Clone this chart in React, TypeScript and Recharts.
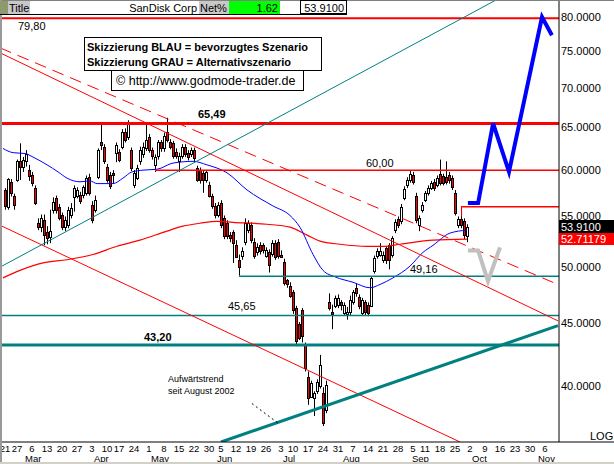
import React from "react";
import { Bar, ComposedChart, Line, ReferenceLine, XAxis, YAxis } from "recharts";

const FONT = "'Liberation Sans', Arial, sans-serif";
const RED = "#ff0000";
const TEAL = "#008080";
const BLUE = "#0000ff";
const GREY = "#c0c0c0";

// daily candles [open, high, low, close]; index 0 = 21 Feb 2006 ... 154 = 29 Sep 2006
const candles: [number, number, number, number][] = [
  [57.8, 58.0, 55.7, 56.1], [56.0, 59.1, 55.7, 59.0], [58.7, 59.0, 57.1, 57.5], [57.2, 57.4, 55.7, 56.2],
  [58.9, 61.2, 58.7, 61.0], [61.0, 63.1, 58.9, 60.4], [60.4, 61.5, 59.8, 61.2], [61.0, 62.3, 60.4, 61.8],
  [60.0, 60.6, 58.8, 59.3], [59.5, 59.8, 58.2, 58.6], [58.0, 58.3, 56.2, 56.4], [54.3, 54.8, 53.6, 53.9],
  [53.9, 55.2, 53.4, 54.8], [54.6, 55.2, 52.1, 53.1], [53.4, 54.0, 52.2, 52.8], [52.9, 55.7, 52.3, 53.5],
  [55.7, 57.0, 55.3, 56.5], [56.9, 57.2, 55.3, 55.7], [56.0, 56.3, 54.6, 54.8], [55.2, 55.4, 53.6, 53.9],
  [53.9, 55.0, 53.5, 54.6], [54.1, 56.0, 53.8, 55.7], [55.1, 56.4, 54.8, 55.9], [57.0, 58.3, 55.5, 58.0],
  [57.2, 58.1, 56.9, 57.8], [57.3, 57.6, 56.3, 56.6], [57.3, 58.3, 56.9, 58.1], [57.5, 59.4, 57.2, 59.1],
  [59.2, 59.6, 57.2, 57.5], [56.2, 56.6, 54.3, 54.6], [55.7, 57.2, 55.4, 56.7], [59.2, 62.5, 59.0, 62.3],
  [63.3, 65.6, 62.3, 62.9], [62.7, 63.0, 60.7, 61.0], [60.4, 60.7, 58.6, 58.9], [59.5, 59.8, 57.9, 58.2],
  [59.7, 60.0, 58.5, 59.4], [62.0, 63.2, 60.9, 62.9], [62.1, 62.4, 60.9, 61.2], [62.7, 64.8, 62.4, 64.5],
  [64.5, 64.9, 63.2, 63.5], [63.8, 65.9, 63.5, 65.7], [62.3, 62.6, 59.9, 60.2], [58.3, 60.0, 58.0, 59.7],
  [59.1, 60.6, 58.9, 60.2], [61.0, 62.7, 60.6, 62.3], [61.8, 63.2, 61.4, 62.7], [62.6, 65.4, 62.2, 63.5],
  [63.8, 64.2, 62.0, 62.3], [62.3, 62.6, 61.2, 61.6], [60.6, 61.8, 59.8, 61.5], [61.6, 63.5, 61.2, 63.2],
  [63.2, 63.5, 62.1, 62.6], [62.6, 64.4, 62.1, 64.0], [64.4, 66.2, 63.2, 63.5], [63.3, 63.6, 62.4, 62.7],
  [63.1, 63.4, 61.3, 61.6], [62.1, 62.5, 61.3, 61.6], [61.0, 62.0, 59.8, 61.6], [61.6, 63.0, 61.3, 62.7],
  [62.7, 63.0, 61.5, 61.8], [62.0, 62.3, 61.1, 61.5], [61.8, 62.6, 61.5, 62.3], [62.3, 62.6, 60.9, 61.4],
  [60.2, 60.5, 58.7, 58.9], [60.0, 60.3, 58.5, 58.9], [59.7, 60.0, 57.5, 58.9], [58.9, 60.0, 58.6, 59.8],
  [58.4, 58.7, 57.0, 57.1], [57.1, 57.4, 55.8, 56.1], [56.1, 56.4, 54.8, 55.1], [55.2, 56.5, 54.9, 56.2],
  [56.4, 56.7, 53.8, 54.1], [54.8, 55.1, 52.7, 53.0], [54.3, 54.6, 52.7, 53.0], [53.1, 53.4, 52.4, 52.8],
  [53.4, 53.6, 50.4, 52.3], [52.1, 52.6, 50.9, 51.0], [50.7, 51.2, 49.2, 50.0], [51.1, 51.9, 50.7, 51.5],
  [52.4, 54.8, 52.1, 54.3], [53.6, 54.6, 53.3, 54.3], [54.1, 54.4, 52.3, 52.6], [52.4, 52.8, 50.8, 51.1],
  [51.4, 52.3, 51.1, 51.9], [52.1, 52.4, 51.2, 51.5], [52.1, 52.3, 51.3, 51.6], [51.1, 51.9, 50.9, 51.6],
  [51.4, 51.7, 49.5, 50.2], [51.3, 52.6, 51.0, 52.3], [52.3, 52.6, 50.7, 51.0], [52.4, 52.7, 50.8, 51.1],
  [51.2, 51.6, 50.9, 51.0], [50.5, 50.8, 48.3, 48.5], [48.8, 48.9, 48.1, 48.4], [48.3, 48.6, 47.2, 47.4],
  [47.7, 47.9, 45.8, 46.1], [46.3, 46.5, 43.1, 43.5], [44.9, 45.1, 43.6, 43.8], [46.1, 46.3, 43.4, 43.9],
  [43.2, 43.4, 41.1, 41.4], [40.7, 41.1, 38.6, 39.1], [39.2, 40.4, 39.1, 40.2], [39.1, 39.6, 37.8, 39.5],
  [39.6, 40.5, 39.4, 40.3], [40.0, 42.4, 39.8, 41.6], [39.5, 39.9, 37.1, 37.3], [38.2, 40.4, 38.0, 40.1],
  [46.8, 47.6, 46.1, 46.3], [46.0, 46.6, 44.5, 45.8], [46.5, 47.4, 46.3, 47.2], [46.6, 47.5, 46.3, 47.2],
  [46.8, 47.0, 46.1, 46.6], [45.9, 46.8, 45.7, 46.6], [45.8, 46.4, 45.3, 46.0], [46.0, 47.4, 45.7, 47.0],
  [46.8, 47.9, 46.6, 47.7], [48.1, 48.5, 47.3, 47.6], [47.3, 47.5, 46.2, 46.5], [45.9, 47.2, 45.7, 47.0],
  [46.8, 47.0, 45.7, 46.0], [46.6, 46.8, 45.6, 45.9], [46.5, 49.1, 46.4, 49.0], [49.6, 51.1, 49.4, 50.9],
  [51.1, 51.8, 50.8, 51.5], [51.2, 52.3, 51.0, 51.5], [50.7, 51.5, 50.4, 51.2], [51.8, 52.0, 50.3, 50.7],
  [52.1, 52.3, 49.8, 50.7], [51.2, 53.0, 50.9, 52.8], [53.6, 54.7, 53.3, 54.4], [54.7, 55.0, 53.8, 54.1],
  [54.5, 56.3, 54.2, 56.0], [56.9, 58.2, 56.7, 57.9], [58.3, 59.2, 58.0, 58.9], [58.9, 60.0, 58.6, 59.6],
  [59.5, 59.8, 58.4, 58.7], [57.2, 57.5, 54.3, 54.6], [54.1, 55.1, 53.5, 54.8], [55.7, 56.5, 55.4, 56.2],
  [56.7, 57.7, 56.5, 57.5], [57.5, 58.3, 57.2, 58.0], [58.0, 58.8, 57.8, 58.6], [58.7, 59.0, 57.7, 58.0],
  [58.4, 59.4, 58.1, 59.1], [59.6, 61.2, 58.3, 58.6], [59.3, 59.6, 58.3, 58.6], [59.2, 61.0, 58.4, 58.7],
  [59.5, 59.8, 58.5, 58.9], [59.1, 59.4, 57.8, 58.1], [57.5, 57.8, 55.1, 55.4], [54.1, 55.0, 53.8, 54.7],
  [54.7, 56.0, 53.8, 54.1], [54.5, 54.8, 52.7, 53.1], [53.0, 54.2, 52.4, 53.91],
];

// moving averages, [day index, value]
const maShort: [number, number][] = [
  [-0.7, 62.5], [2.7, 62.0], [6.7, 61.9], [9.3, 61.5], [14, 60.6], [17.7, 59.8], [20.7, 59.1], [25, 58.7],
  [28.3, 58.8], [30.7, 58.5], [36, 58.5], [39.3, 59.1], [42.3, 59.8], [46, 60.0], [50.7, 60.1], [56, 60.8],
  [62.7, 61.0], [67.3, 60.6], [74, 59.7], [80.7, 57.8], [89.3, 56.1], [95, 55.1], [98.3, 53.9], [102.7, 51.2],
  [106, 49.7], [110, 49.1], [116, 48.6], [121.7, 48.1], [125, 48.4], [129.3, 49.0], [135, 50.1], [139.3, 51.4],
  [142.7, 52.1], [148.3, 53.3], [154, 53.6],
];
const maLong: [number, number][] = [
  [-0.7, 49.0], [5, 49.7], [12.7, 50.4], [20.7, 50.7], [29.3, 51.2], [37.3, 52.0], [45, 52.6], [54, 53.5],
  [59.3, 54.0], [65, 54.3], [70.7, 54.5], [76, 54.4], [87.3, 54.2], [95, 53.9], [100.7, 53.1], [105, 52.5],
  [111.7, 52.2], [120.7, 52.0], [126, 52.0], [131.7, 52.2], [142.7, 52.6], [154, 52.71],
];

// projected paths
const blueScenario: [number, number][] = [[154.3, 56.4], [157.7, 56.4], [162.7, 65.5], [168, 59.8], [179, 80.0], [182.3, 77.3]];
const greyScenario: [number, number][] = [[154.3, 51.6], [157.7, 51.6], [161, 48.7], [165, 51.9]];

// horizontal levels [price, first day index]
const redLevels: [number, number][] = [[79.8, -2], [65.49, -2], [60.0, 50], [56.0, 152]];
const tealLevels: [number, number][] = [[49.16, 78], [45.65, -2], [43.2, -2]];

// trend lines, two points each [day index, price]
const dashedRedTrend: [number, number][] = [[-1.67, 75.5], [184.33, 48.4]];
const upperRedTrend: [number, number][] = [[-1.67, 74.8], [184.33, 45.2]];
const lowerRedTrend: [number, number][] = [[-1.67, 54.1], [151.67, 36.0]];
const thinTealTrend: [number, number][] = [[-1.67, 50.0], [163.67, 82.6]];
const thickTealTrend: [number, number][] = [[72, 36.0], [184.33, 44.8]];
const pointerLine: [number, number][] = [[82.3, 38.7], [91, 37.3]];
const highMark: [number, number][] = [[152.2, 56.0], [152.2, 55.0]];

const priceTicks = [40, 45, 50, 55, 60, 65, 70, 75, 80];
const dayTicks: [number, string][] = [
  [0, "21"], [4, "27"], [9, "6"], [14, "13"], [19, "20"], [24, "27"], [29, "3"], [34, "10"], [38, "17"],
  [43, "24"], [48, "1"], [53, "8"], [58, "15"], [63, "22"], [68, "30"], [72, "5"], [77, "12"], [82, "19"],
  [87, "26"], [92, "3"], [96, "10"], [101, "17"], [106, "24"], [111, "31"], [116, "7"], [121, "14"],
  [126, "21"], [131, "28"], [136, "5"], [140, "11"], [145, "18"], [150, "25"], [155, "2"], [160, "9"],
  [165, "16"], [170, "23"], [175, "30"], [180, "6"],
];
const monthTicks: [number, string][] = [
  [6, "Mar"], [29, "Apr"], [48, "May"], [70, "Jun"], [92, "Jul"], [112, "Aug"], [135, "Sep"], [155, "Oct"], [177, "Nov"],
];

const X_DOMAIN: [number, number] = [-5 / 3, 184 + 2 / 3];
const Y_DOMAIN: [number, number] = [36.0, 82.6];

const rows = candles.map((c, i) => ({ i, range: [c[2], c[1]], ohlc: c }));
const toPts = (a: [number, number][]) => a.map(([i, v]) => ({ i, v }));
const seg = (a: [number, number][]) => a.map(([x, y]) => ({ x, y }));
const allTicks = Array.from(new Set([...dayTicks.map((d) => d[0]), ...monthTicks.map((m) => m[0])])).sort((a, b) => a - b);

function Candle(props: any) {
  const { x, y, width, height, payload } = props;
  if (!payload || x == null || y == null) return null;
  const [o, h, l, c] = payload.ohlc;
  const top = Math.min(y, y + height);
  const span = Math.abs(height);
  const lr = Math.log(h) - Math.log(l);
  const py = (v: number) => top + (lr > 0 ? ((Math.log(h) - Math.log(v)) / lr) * span : 0);
  const cx = Math.round(x + width / 2);
  const bTop = Math.round(py(Math.max(o, c)));
  const bBot = Math.round(py(Math.min(o, c)));
  return (
    <g>
      <line x1={cx + 0.5} x2={cx + 0.5} y1={top} y2={top + span} stroke="#000" strokeWidth={1} />
      <rect
        x={cx - 0.5}
        y={bTop + 0.5}
        width={2}
        height={Math.max(1, bBot - bTop)}
        fill={c >= o ? "#fff" : RED}
        stroke="#000"
        strokeWidth={1}
      />
    </g>
  );
}

function DateTick(props: any) {
  const { x, y, payload } = props;
  const day = dayTicks.find((d) => d[0] === payload.value);
  const month = monthTicks.find((m) => m[0] === payload.value);
  return (
    <g>
      {day && (
        <text x={x} y={y + 10} textAnchor="middle" fontSize={9.5} fontFamily={FONT} fill="#000">
          {day[1]}
        </text>
      )}
      {month && (
        <text x={x + 2} y={y + 20} textAnchor="start" fontSize={9.5} fontFamily={FONT} fill="#000">
          {month[1]}
        </text>
      )}
    </g>
  );
}

const redWidths = [2, 3, 1.5, 1.5];
const tealWidths = [1.5, 1.5, 3];

function Overlay() {
  const t = { fontFamily: FONT, fontSize: 11, fill: "#000" } as const;
  return (
    <svg width={614} height={464} style={{ position: "absolute", left: 0, top: 0, pointerEvents: "none" }}>
      <rect x={0} y={0} width={614} height={1} fill="#808080" />
      <rect x={0} y={0} width={2} height={464} fill="#9a9a9a" />
      <rect x={0} y={462} width={614} height={2} fill="#d4d0c8" />
      {/* header strip */}
      <rect x={0} y={1} width={347} height={13} fill="#fff" />
      <rect x={0} y={1} width={8} height={13} fill="#8c9a6e" />
      <rect x={8} y={1} width={22} height={13} fill="#c8c8c8" />
      <text x={9} y={11.5} {...t}>Title</text>
      <text x={197} y={11.5} textAnchor="end" {...t}>SanDisk Corp</text>
      <rect x={199} y={1} width={30} height={13} fill="#c8c8c8" />
      <text x={200} y={11.5} {...t}>Net%</text>
      <rect x={229} y={1} width={51} height={13} fill="#00ff00" />
      <text x={278} y={11.5} textAnchor="end" {...t}>1.62</text>
      <rect x={300.5} y={0.5} width={46} height={13} fill="#fff" stroke="#000" />
      <text x={344} y={11.5} textAnchor="end" {...t}>53.9100</text>
      <line x1={0} x2={347} y1={14.5} y2={14.5} stroke="#000" />
      {/* legend boxes */}
      <rect x={84.5} y={37.5} width={237} height={33} fill="#fff" stroke="#000" />
      <text x={87} y={51} {...t} fontWeight="bold">Skizzierung BLAU = bevorzugtes Szenario</text>
      <text x={87} y={66} {...t} fontWeight="bold">Skizzierung GRAU = Alternativszenario</text>
      <rect x={111.5} y={70.5} width={192} height={20} fill="#fff" stroke="#000" />
      <text x={116} y={84.5} {...t} fontSize={12.5}>© http://www.godmode-trader.de</text>
      {/* level labels */}
      <text x={18} y={30} {...t}>79,80</text>
      <text x={198} y={118} {...t} fontWeight="bold">65,49</text>
      <text x={366} y={167} {...t}>60,00</text>
      <text x={410} y={273} {...t}>49,16</text>
      <text x={228} y={310} {...t}>45,65</text>
      <text x={144} y={341} {...t} fontWeight="bold">43,20</text>
      <text x={168} y={382} {...t} fontSize={9}>Aufwärtstrend</text>
      <text x={168} y={394} {...t} fontSize={9}>seit August 2002</text>
      {/* right side price tags */}
      <rect x={559} y={220} width={55} height={13} fill="#000" />
      <text x={561} y={231} {...t} fill="#fff">53.9100</text>
      <rect x={559} y={233} width={55} height={12} fill={RED} />
      <text x={561} y={243} {...t} fill="#fff">52.71179</text>
      <text x={590} y={440} {...t}>LOG</text>
      <rect x={559} y={441.5} width={55} height={1} fill="#000" />
    </svg>
  );
}

export default function App() {
  return (
    <div style={{ position: "absolute", left: 0, top: 0, width: 614, height: 464, background: "#fff", fontFamily: FONT }}>
      <ComposedChart width={614} height={464} data={rows} margin={{ top: 0, right: 0, bottom: 0, left: 0 }}>
        <XAxis
          type="number"
          dataKey="i"
          domain={X_DOMAIN}
          allowDataOverflow
          ticks={allTicks}
          interval={0}
          tick={(p: any) => <DateTick {...p} />}
          tickLine={false}
          tickSize={0}
          tickMargin={0}
          height={22}
          axisLine={{ stroke: "#000" }}
        />
        <YAxis
          orientation="right"
          scale="log"
          domain={Y_DOMAIN}
          allowDataOverflow
          ticks={priceTicks}
          interval={0}
          tickFormatter={(v: number) => v.toFixed(4)}
          tick={{ fill: "#000", fontSize: 11, fontFamily: FONT }}
          tickLine={false}
          tickSize={0}
          tickMargin={2}
          width={55}
          axisLine={{ stroke: "#000" }}
        />
        <Bar dataKey="range" barSize={3} isAnimationActive={false} shape={(p: any) => <Candle {...p} />} />
        <Line data={toPts(maLong)} dataKey="v" type="monotone" stroke={RED} strokeWidth={1.2} dot={false} isAnimationActive={false} />
        <Line data={toPts(maShort)} dataKey="v" type="monotone" stroke={BLUE} strokeWidth={1} dot={false} isAnimationActive={false} />
        {redLevels.map(([v, from], k) => (
          <ReferenceLine key={`r${k}`} segment={seg([[from, v], [186, v]])} stroke={RED} strokeWidth={redWidths[k]} ifOverflow="hidden" />
        ))}
        {tealLevels.map(([v, from], k) => (
          <ReferenceLine key={`t${k}`} segment={seg([[from, v], [186, v]])} stroke={TEAL} strokeWidth={tealWidths[k]} ifOverflow="hidden" />
        ))}
        <ReferenceLine segment={seg(highMark)} stroke={RED} strokeWidth={1} ifOverflow="hidden" />
        <ReferenceLine segment={seg(dashedRedTrend)} stroke={RED} strokeWidth={1} strokeDasharray="12 7" ifOverflow="hidden" />
        <ReferenceLine segment={seg(upperRedTrend)} stroke={RED} strokeWidth={1} ifOverflow="hidden" />
        <ReferenceLine segment={seg(lowerRedTrend)} stroke={RED} strokeWidth={1} ifOverflow="hidden" />
        <ReferenceLine segment={seg(thinTealTrend)} stroke={TEAL} strokeWidth={1} ifOverflow="hidden" />
        <ReferenceLine segment={seg(thickTealTrend)} stroke={TEAL} strokeWidth={3} ifOverflow="hidden" />
        <ReferenceLine segment={seg(pointerLine)} stroke="#000" strokeWidth={1} strokeDasharray="2 3" ifOverflow="hidden" />
        <Line data={toPts(greyScenario)} dataKey="v" type="linear" stroke={GREY} strokeWidth={4} strokeLinejoin="miter" dot={false} isAnimationActive={false} />
        <Line data={toPts(blueScenario)} dataKey="v" type="linear" stroke={BLUE} strokeWidth={4} strokeLinejoin="miter" dot={false} isAnimationActive={false} />
      </ComposedChart>
      <Overlay />
    </div>
  );
}
